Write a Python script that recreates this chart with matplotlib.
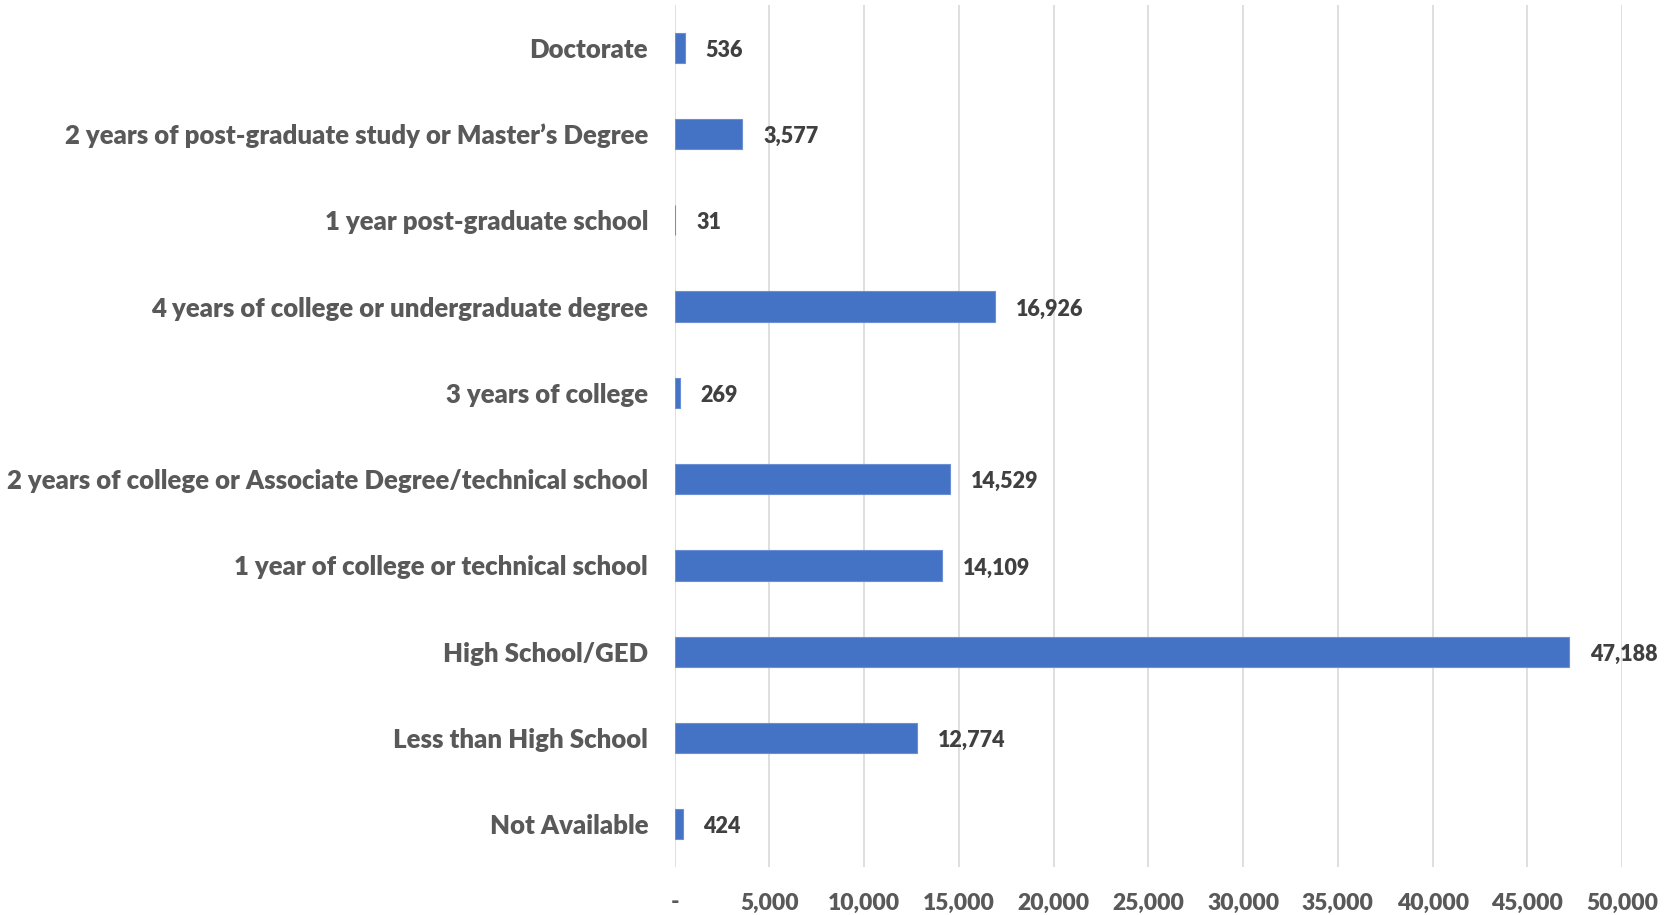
import matplotlib.pyplot as plt
from matplotlib.ticker import FuncFormatter

categories = [
    'Not Available',
    'Less than High School',
    'High School/GED',
    '1 year of college or technical school',
    '2 years of college or Associate Degree/technical school',
    '3 years of college',
    '4 years of college or undergraduate degree',
    '1 year post-graduate school',
    '2 years of post-graduate study or Master\u2019s Degree',
    'Doctorate',
]
values = [424, 12774, 47188, 14109, 14529, 269, 16926, 31, 3577, 536]

plt.rcParams['font.family'] = ['Lato', 'DejaVu Sans']

fig = plt.figure(figsize=(16.74, 9.15), dpi=100)
ax = fig.add_axes([0.403, 0.052, 0.566, 0.943])

ypos = range(len(categories))
ax.barh(ypos, values, height=0.35, color='#4472C4', edgecolor='#6a8fd4', linewidth=0.8, zorder=3)

for y, v in zip(ypos, values):
    ax.text(v + 1100, y - 0.03, f'{v:,}', va='center', ha='left', fontsize=15.5,
            fontweight='heavy', color='#404040', zorder=4)

ax.set_xlim(0, 50000)
ax.set_ylim(-0.5, len(categories) - 0.5)
ax.set_xticks(range(0, 50001, 5000))
ax.xaxis.set_major_formatter(FuncFormatter(lambda x, p: '-' if x == 0 else f'{int(x):,}'))
ax.set_yticks(list(ypos))
ax.set_yticklabels(categories)

ax.grid(axis='x', color='#d9d9d9', linewidth=1.2, zorder=0)
for s in ax.spines.values():
    s.set_visible(False)
ax.tick_params(axis='both', length=0)
ax.tick_params(axis='y', pad=19, labelsize=18.5, labelcolor='#595959')
ax.tick_params(axis='x', pad=18, labelsize=16.5, labelcolor='#595959')
for lab in ax.get_yticklabels() + ax.get_xticklabels():
    lab.set_fontweight('heavy')

fig.savefig('out.png', dpi=100)
